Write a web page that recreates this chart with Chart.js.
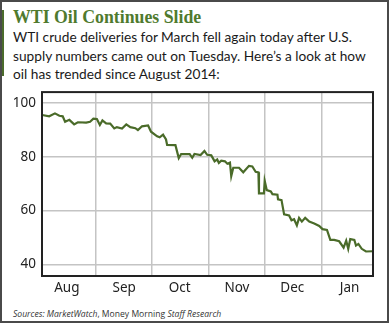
<!DOCTYPE html>
<html>
<head>
<meta charset="utf-8">
<script src="https://cdn.jsdelivr.net/npm/chart.js@4.4.1/dist/chart.umd.min.js"></script>
<style>
  html, body { margin: 0; padding: 0; background: #fff; }
  #card { position: relative; width: 389px; height: 323px; box-sizing: border-box; border: 2px solid #4a4a4a; overflow: hidden; }
  #bar { position: absolute; left: -2px; top: 8px; width: 4px; height: 66px; background: #4b6b2b; }
  #title { position: absolute; left: 11px; top: 5px; font: bold 17.8px "Liberation Serif", serif; color: #4f7a2e; white-space: nowrap; }
  #sub { position: absolute; left: 11px; top: 26px; font: 13.7px Lato, sans-serif; line-height: 18.5px; color: #1a1a1a; white-space: nowrap; }
  #src { position: absolute; left: 11px; top: 306px; font: 8.6px "Open Sans", sans-serif; color: #333; white-space: nowrap; }
  #chartBox { position: absolute; left: -2px; top: 76px; width: 390px; height: 222px; }
</style>
</head>
<body>
<div id="card">
  <div id="bar"></div>
  <div id="title">WTI Oil Continues Slide</div>
  <div id="sub">WTI crude deliveries for March fell again today after U.S.<br>supply numbers came out on Tuesday. Here’s a look at how<br>oil has trended since August 2014:</div>
  <div id="chartBox"><canvas id="chart"></canvas></div>
  <div id="src"><i>Sources: MarketWatch</i>, Money Morning <i>Staff Research</i></div>
</div>
<script>
// days counted from Aug 1, 2014
const days = [1.8, 5.6, 8.7, 11.1, 12.9, 14.2, 16.5, 19.1, 21.1, 25.6, 27.7, 29.5, 31.4, 33.0, 34.4, 36.4,
  38.6, 40.8, 42.2, 45.0, 47.3, 49.5, 52.2, 53.6, 55.8, 59.1, 60.7, 64.0, 65.4, 67.2, 68.8, 69.4, 73.9,
  75.7, 77.0, 81.6, 83.0, 84.2, 87.5, 89.6, 91.1, 93.3, 95.1, 96.5, 97.4, 98.7, 100.7, 102.0, 103.4,
  104.1, 105.2, 108.3, 110.6, 113.7, 115.5, 117.3, 118.8, 119.1, 121.8, 122.2, 123.3, 125.5, 126.4,
  129.1, 129.4, 131.3, 132.7, 135.4, 136.7, 138.1, 139.6, 140.8, 142.3, 144.1, 146.3, 149.0, 151.7,
  153.5, 155.9, 157.7, 159.8, 162.5, 164.9, 166.3, 167.4, 168.5, 170.7, 171.6, 172.9, 174.7, 177.0, 180.7];
const prices = [95.5, 95.0, 96.1, 95.2, 95.0, 93.0, 93.7, 92.0, 92.8, 92.7, 93.0, 94.1, 94.0, 91.8, 93.5, 92.4,
  92.3, 90.5, 91.0, 90.5, 92.0, 91.0, 90.6, 89.9, 91.3, 91.6, 89.3, 87.6, 87.2, 88.2, 86.4, 84.4, 84.3,
  79.5, 81.0, 81.0, 79.6, 81.0, 80.6, 82.1, 80.7, 80.5, 78.3, 79.0, 77.7, 78.5, 78.3, 77.4, 77.8,
  72.8, 75.9, 75.9, 74.2, 76.6, 76.4, 74.4, 74.2, 66.4, 66.4, 71.0, 67.6, 67.1, 66.1,
  65.9, 64.2, 63.9, 58.6, 58.2, 56.4, 56.8, 54.5, 57.3, 55.9, 57.3, 55.9, 55.2, 54.3,
  53.1, 52.8, 49.1, 49.1, 48.6, 46.2, 48.8, 45.8, 49.4, 49.1, 47.0, 47.6, 45.8, 44.8, 44.9];
const monthLabels = ['Aug', 'Sep', 'Oct', 'Nov', 'Dec', 'Jan'];
const monthStarts = [0, 31, 61, 92, 122, 153];
const yTicks = [40, 60, 80, 100];

const frame = {
  id: 'frame',
  afterDatasetsDraw(chart) {
    const a = chart.chartArea, c = chart.ctx;
    c.save();
    c.strokeStyle = '#222';
    c.lineWidth = 2;
    c.strokeRect(a.left, a.top, a.right - a.left, a.bottom - a.top);
    c.restore();
  }
};

new Chart(document.getElementById('chart'), {
  type: 'line',
  data: {
    datasets: [{
      data: days.map((d, i) => ({ x: d, y: prices[i] })),
      borderColor: '#4a6b29',
      borderWidth: 2.2,
      pointRadius: 0,
      tension: 0
    }]
  },
  options: {
    responsive: true,
    maintainAspectRatio: false,
    animation: false,
    layout: { padding: { top: 11, right: 17, left: 0, bottom: 0 } },
    plugins: { legend: { display: false }, tooltip: { enabled: false } },
    scales: {
      x: {
        type: 'linear',
        min: 1.7,
        max: 180.8,
        afterBuildTicks: s => { s.ticks = monthStarts.map(v => ({ value: v })); },
        afterFit: s => { s.height = 24; },
        grid: {
          color: ctx => ctx.index === 0 ? 'rgba(0,0,0,0)' : '#c4c4c4',
          lineWidth: 1.5,
          drawTicks: false
        },
        border: { display: false },
        ticks: {
          autoSkip: false,
          maxRotation: 0,
          padding: 4,
          labelOffset: 28,
          color: '#222',
          font: { family: 'Noto Sans', size: 13.5 },
          callback: (v, i) => monthLabels[i]
        }
      },
      y: {
        min: 35.7,
        max: 104,
        afterBuildTicks: s => { s.ticks = yTicks.map(v => ({ value: v })); },
        afterFit: s => { s.width = 42; },
        grid: { color: '#c4c4c4', lineWidth: 1.5, drawTicks: false },
        border: { display: false },
        ticks: {
          padding: 6,
          color: '#222',
          font: { family: 'Noto Sans', size: 13.5 }
        }
      }
    }
  },
  plugins: [frame]
});
</script>
</body>
</html>
